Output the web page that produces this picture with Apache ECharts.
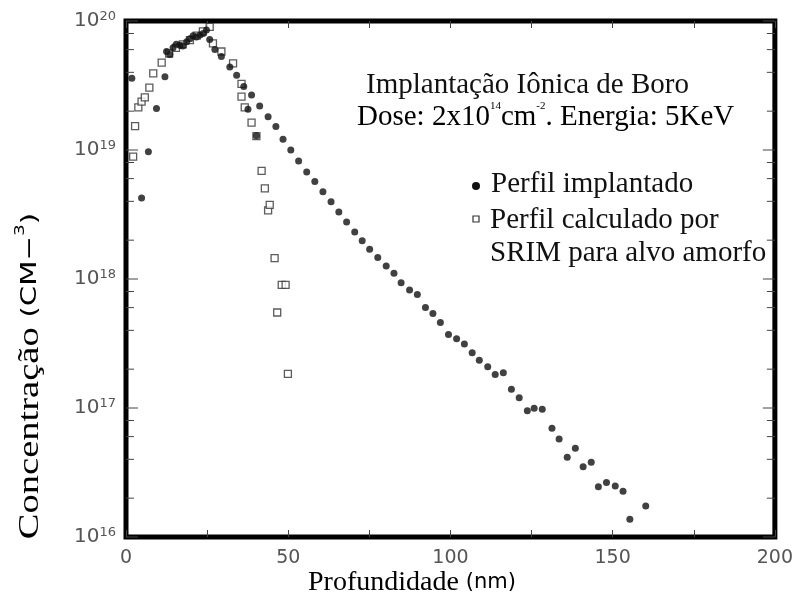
<!DOCTYPE html>
<html><head><meta charset="utf-8">
<script src="https://cdn.jsdelivr.net/npm/echarts@6/dist/echarts.min.js"></script>
<style>html,body{margin:0;padding:0;background:#fff}#c{width:796px;height:603px}</style>
</head><body><div id="c"></div>
<script>
// Perfil implantado (filled circles): depth (nm) and concentration (cm^-3)
const implantadoX = [1.8, 4.8, 6.9, 9.4, 12.0, 12.5, 13.5, 14.5, 15.5, 16.6, 17.5, 18.7, 19.7, 20.7, 21.7, 22.8, 23.8, 24.8, 25.8, 27.4, 29.4, 32.0, 34.1, 36.3, 37.6, 38.7, 40.2, 41.2, 43.8, 46.2, 48.4, 50.8, 53.2, 55.7, 58.2, 60.7, 63.2, 65.6, 68.0, 70.5, 72.8, 75.1, 77.6, 80.2, 82.6, 84.8, 87.4, 89.8, 92.3, 94.6, 96.9, 99.4, 101.9, 104.3, 106.7, 108.9, 111.5, 113.8, 116.3, 118.8, 121.2, 123.7, 125.8, 128.3, 131.3, 133.5, 136.0, 138.5, 140.9, 143.4, 145.6, 148.1, 150.8, 153.2, 155.3, 160.2];
const implantadoY = [3.6e19, 4.25e18, 9.7e18, 2.1e19, 3.7e19, 5.8e19, 5.5e19, 6.2e19, 6.6e19, 6.5e19, 6.4e19, 6.9e19, 7.3e19, 7.7e19, 7.5e19, 7.8e19, 8.0e19, 8.5e19, 7.2e19, 6.0e19, 5.3e19, 4.4e19, 3.8e19, 3.1e19, 2.07e19, 2.67e19, 1.29e19, 2.19e19, 1.81e19, 1.52e19, 1.21e19, 1.0e19, 8.2e18, 6.75e18, 5.7e18, 4.75e18, 3.97e18, 3.3e18, 2.77e18, 2.31e18, 1.98e18, 1.70e18, 1.47e18, 1.26e18, 1.11e18, 9.35e17, 8.2e17, 7.6e17, 6.0e17, 5.4e17, 4.6e17, 3.72e17, 3.44e17, 3.13e17, 2.68e17, 2.35e17, 2.09e17, 1.82e17, 1.88e17, 1.40e17, 1.20e17, 9.5e16, 9.95e16, 9.8e16, 6.97e16, 5.75e16, 4.15e16, 4.87e16, 3.5e16, 3.8e16, 2.45e16, 2.64e16, 2.48e16, 2.26e16, 1.37e16, 1.74e16];
// Perfil calculado por SRIM (open squares)
const srimX = [2.2, 2.8, 3.8, 4.8, 5.8, 7.2, 8.4, 11.0, 13.3, 15.4, 17.5, 19.7, 21.8, 23.7, 25.8, 26.8, 29.4, 33.0, 35.6, 35.6, 36.6, 38.7, 40.2, 41.8, 42.8, 43.8, 44.3, 45.8, 46.6, 48.0, 49.2, 49.9];
const srimY = [8.9e18, 1.53e19, 2.14e19, 2.37e19, 2.56e19, 3.04e19, 3.93e19, 4.75e19, 5.6e19, 6.2e19, 6.6e19, 7.1e19, 7.7e19, 8.3e19, 9.0e19, 6.7e19, 5.8e19, 4.7e19, 3.25e19, 2.59e19, 2.14e19, 1.63e19, 1.28e19, 6.9e18, 5.05e18, 3.4e18, 3.75e18, 1.45e18, 5.5e17, 9.0e17, 9.0e17, 1.84e17];
// Axis ticks
const xTickLabels = [0, 50, 100, 150, 200];
const yDecadeExponents = [16, 17, 18, 19, 20];
const yMinorMultipliers = [2, 4, 6, 8];
// Texts
const seriesNames = ['Perfil implantado', 'Perfil calculado por SRIM para alvo amorfo'];
const xAxisTitle = 'Profundidade';
const xAxisUnit = '(nm)';
const yAxisTitle = 'Concentração';

const implantadoData = implantadoX.map((x, i) => [x, implantadoY[i]]);
const srimData = srimX.map((x, i) => [x, srimY[i]]);
const yTickData = [];
yDecadeExponents.forEach(e => {
  yTickData.push([0, Math.pow(10, e), 1]);
  if (e < 20) yMinorMultipliers.forEach(m => yTickData.push([0, m * Math.pow(10, e), 0]));
});

const serif = '"Liberation Serif", "Times New Roman", serif';
const sans = '"DejaVu Sans", sans-serif';
const gray = '#555';

const chart = echarts.init(document.getElementById('c'), null, {renderer: 'canvas'});
chart.setOption({
  backgroundColor: '#fff',
  animation: false,
  grid: {left: 126, right: 20, top: 21, bottom: 66, show: true, borderColor: '#000', borderWidth: 5, backgroundColor: 'transparent'},
  xAxis: [{
    type: 'value', min: 0, max: 200, interval: 25,
    axisLine: {show: false},
    axisTick: {show: true, inside: true, length: 7, lineStyle: {color: '#444', width: 1}},
    splitLine: {show: false},
    axisLabel: {
      margin: 12, color: gray, fontFamily: sans, fontSize: 19,
      formatter: v => (xTickLabels.indexOf(v) >= 0 ? String(v) : '')
    }
  }, {
    type: 'value', min: 0, max: 200, interval: 25, position: 'top',
    axisLine: {show: false},
    axisTick: {show: true, inside: true, length: 7, lineStyle: {color: '#444', width: 1}},
    splitLine: {show: false},
    axisLabel: {show: false}
  }],
  yAxis: {
    type: 'log', logBase: 10, min: 1e16, max: 1e20,
    axisLine: {show: false},
    axisTick: {show: false},
    splitLine: {show: false},
    minorTick: {show: false},
    axisLabel: {
      margin: 10, color: gray, fontFamily: sans,
      formatter: v => '{b|10}{s|' + Math.round(Math.log10(v)) + '}',
      rich: {
        b: {fontSize: 20, fontFamily: sans, color: gray, lineHeight: 22},
        s: {fontSize: 13, fontFamily: sans, color: gray, verticalAlign: 'top', padding: [0, 0, 8, 0], lineHeight: 22}
      }
    }
  },
  series: [{
    type: 'custom',
    xAxisIndex: 0,
    encode: {x: 0, y: 1},
    data: yTickData,
    silent: true,
    clip: false,
    renderItem: (params, api) => {
      const v = api.value(1);
      const major = api.value(2) === 1;
      const pl = api.coord([0, v]);
      const pr = api.coord([200, v]);
      const len = major ? 12 : 8;
      const st = {stroke: '#444', lineWidth: 1};
      return {type: 'group', children: [
        {type: 'line', shape: {x1: pl[0], y1: pl[1], x2: pl[0] + len, y2: pl[1]}, style: st},
        {type: 'line', shape: {x1: pr[0] - len, y1: pr[1], x2: pr[0], y2: pr[1]}, style: st}
      ]};
    }
  }, {
    name: seriesNames[1], type: 'scatter', xAxisIndex: 0, data: srimData,
    symbol: 'rect', symbolSize: 7,
    itemStyle: {color: '#fff', borderColor: '#333', borderWidth: 1.3}
  }, {
    name: seriesNames[0], type: 'scatter', xAxisIndex: 0, data: implantadoData,
    symbol: 'circle', symbolSize: 7,
    itemStyle: {color: '#111'}
  }],
  graphic: [
    {type: 'text', left: 366, top: 71, style: {text: 'Implantação Iônica de Boro', font: '29px ' + serif, fill: '#111'}},
    {type: 'text', left: 357, top: 101, style: {
      text: '{t|Dose: 2x10}{s|14}{t|cm}{s|-2}{t|. Energia: 5KeV}',
      rich: {
        t: {fontSize: 29, fontFamily: serif, color: '#111', lineHeight: 32},
        s: {fontSize: 11, fontFamily: serif, color: '#111', verticalAlign: 'top', padding: [0, 0, 15, 0], lineHeight: 32}
      }
    }},
    {type: 'circle', shape: {cx: 476, cy: 186, r: 4}, style: {fill: '#111'}},
    {type: 'text', left: 491, top: 170, style: {text: seriesNames[0], font: '29px ' + serif, fill: '#111'}},
    {type: 'rect', shape: {x: 473, y: 216, width: 6, height: 6}, style: {fill: '#fff', stroke: '#333', lineWidth: 1.2}},
    {type: 'text', left: 490, top: 204, style: {text: 'Perfil calculado por\nSRIM para alvo amorfo', font: '29px ' + serif, fill: '#111', lineHeight: 33}},
    {type: 'text', x: 412, y: 583, style: {
      text: '{a|' + xAxisTitle + ' }{b|' + xAxisUnit + '}', align: 'center', verticalAlign: 'middle',
      rich: {a: {fontSize: 28, fontFamily: serif, color: '#111'}, b: {fontSize: 21, fontFamily: sans, color: gray}}
    }},
    {type: 'text', x: 30, y: 376, rotation: Math.PI / 2, scaleX: 1.33, style: {
      text: '{a|' + yAxisTitle + ' }{b|(CM−}{s|3}{b|)}', align: 'center', verticalAlign: 'middle',
      rich: {
        a: {fontSize: 29, fontFamily: serif, color: '#111', lineHeight: 34},
        b: {fontSize: 22, fontFamily: sans, color: gray, lineHeight: 34},
        s: {fontSize: 14, fontFamily: sans, color: gray, verticalAlign: 'top', padding: [0, 0, 6, 0], lineHeight: 34}
      }
    }}
  ]
});
</script>
</body></html>
